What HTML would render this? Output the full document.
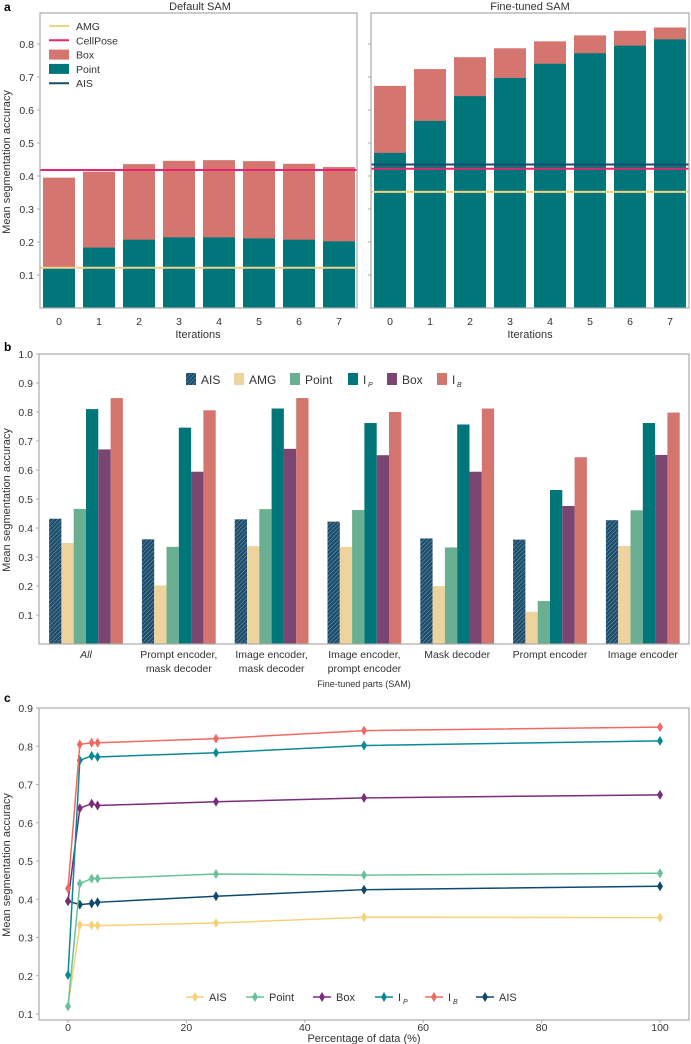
<!DOCTYPE html>
<html><head><meta charset="utf-8"><style>
body{margin:0;background:#fff;}
svg{display:block;font-family:"Liberation Sans",sans-serif;}
</style></head><body>
<svg id="s" width="691" height="1044" viewBox="0 0 691 1044">
<defs><pattern id="hatch" width="3" height="3" patternUnits="userSpaceOnUse" patternTransform="rotate(45)"><rect width="3" height="3" fill="#1e4d6b"/><line x1="0" y1="0" x2="0" y2="3" stroke="#8fb3c8" stroke-width="0.8"/></pattern></defs>
</svg>
<script>
// Panel a data
const iterations=[0,1,2,3,4,5,6,7];
const defPoint=[0.12,0.183,0.207,0.214,0.214,0.211,0.207,0.202];
const defBox=[0.395,0.413,0.436,0.446,0.448,0.445,0.437,0.427];
const defAMG=0.122, defCell=0.418;
const ftPoint=[0.47,0.567,0.642,0.697,0.74,0.772,0.795,0.814];
const ftBox=[0.673,0.724,0.76,0.787,0.808,0.826,0.84,0.85];
const ftAMG=0.352, ftCell=0.422, ftAIS=0.435;
const aTicks=[0.1,0.2,0.3,0.4,0.5,0.6,0.7,0.8];
// Panel b data
const bGroups=["All","Prompt encoder,|mask decoder","Image encoder,|mask decoder","Image encoder,|prompt encoder","Mask decoder","Prompt encoder","Image encoder"];
const bAIS=[0.432,0.361,0.430,0.422,0.364,0.360,0.427];
const bAMG=[0.348,0.202,0.338,0.335,0.200,0.111,0.338];
const bPoint=[0.466,0.335,0.465,0.462,0.333,0.148,0.461];
const bIP=[0.810,0.746,0.812,0.762,0.757,0.531,0.762];
const bBox=[0.671,0.594,0.673,0.651,0.594,0.476,0.652];
const bIB=[0.848,0.806,0.848,0.800,0.812,0.644,0.798];
const bTicks=[0.1,0.2,0.3,0.4,0.5,0.6,0.7,0.8,0.9,1.0];
// Panel c data
const cX=[0,2,4,5,25,50,100];
const cAMG=[0.12,0.333,0.332,0.331,0.338,0.353,0.352];
const cPoint=[0.12,0.441,0.454,0.454,0.466,0.463,0.468];
const cBox=[0.395,0.638,0.650,0.645,0.655,0.665,0.673];
const cIP=[0.202,0.763,0.775,0.772,0.783,0.802,0.814];
const cIB=[0.428,0.805,0.809,0.809,0.820,0.841,0.850];
const cAIS=[0.395,0.386,0.389,0.392,0.408,0.425,0.434];
const cYTicks=[0.1,0.2,0.3,0.4,0.5,0.6,0.7,0.8,0.9];
const cXTicks=[0,20,40,60,80,100];

const S=document.getElementById('s');const NS='http://www.w3.org/2000/svg';
function mk(t,a,txt){const e=document.createElementNS(NS,t);for(const k in a)e.setAttribute(k,a[k]);if(txt!==undefined)e.textContent=txt;S.appendChild(e);return e;}
function T(x,y,s,o){o=o||{};return mk('text',{x:x,y:y,'font-size':o.fs||10.5,fill:o.fill||'#333','text-anchor':o.anchor||'middle','font-style':o.it||'normal','font-weight':o.fw||'normal',transform:o.tr||''},s);}
function frame(x0,y0,x1,y1,name){const r=mk('rect',{x:x0,y:y0,width:x1-x0,height:y1-y0,fill:'none',stroke:'#aaa','stroke-width':1.2});}

// ---- Panel a
const aY=v=>308-v*330;
const aXL=i=>59+i*40, aXR=i=>390+i*40;
let t=T(4,11,'a',{fs:12,fw:'bold',anchor:'start',fill:'#000'});
t=T(200,10,'Default SAM',{fs:11});
t=T(530,10,'Fine-tuned SAM',{fs:11});
function panelA(xf,pts,box,side){
  iterations.forEach((it,i)=>{const cx=xf(i);
    let r=mk('rect',{x:cx-16,y:aY(box[i]),width:32,height:aY(0)-aY(box[i]),fill:'#d4756f'});
    r=mk('rect',{x:cx-16,y:aY(pts[i]),width:32,height:aY(0)-aY(pts[i]),fill:'#00767a'});
    const l=T(cx,325,String(it));
  });
}
panelA(aXL,defPoint,defBox,'default');panelA(aXR,ftPoint,ftBox,'finetuned');
function hline(x0,x1,v,c,n){const l=mk('line',{x1:x0,x2:x1,y1:aY(v),y2:aY(v),stroke:c,'stroke-width':2});}
hline(40,357,defAMG,'#f0d48a','amg-line-default');hline(40,357,defCell,'#e8246e','cellpose-line-default');
hline(371,689,ftAMG,'#f0d48a','amg-line-finetuned');hline(371,689,ftCell,'#e8246e','cellpose-line-finetuned');hline(371,689,ftAIS,'#1b4a6b','ais-line-finetuned');
frame(40,13,357,308,'default-sam-axes');frame(371,13,689,308,'finetuned-sam-axes');
aTicks.forEach(v=>{const l=T(34,aY(v)+4,v.toFixed(1),{anchor:'end'});
  mk('line',{x1:37,x2:40,y1:aY(v),y2:aY(v),stroke:'#aaa'});mk('line',{x1:368,x2:371,y1:aY(v),y2:aY(v),stroke:'#aaa'});});
t=T(0,0,'Mean segmentation accuracy',{fs:11,tr:'translate(10,162) rotate(-90)'});
t=T(198,338,'Iterations',{fs:11});
t=T(530,338,'Iterations',{fs:11});
[['AMG','line','#f0d48a'],['CellPose','line','#e8246e'],['Box','rect','#d4756f'],['Point','rect','#00767a'],['AIS','line','#1b4a6b']].forEach((e,i)=>{const y=26+i*14.3;
  if(e[1]=='line')mk('line',{x1:49,x2:69,y1:y,y2:y,stroke:e[2],'stroke-width':2});else mk('rect',{x:49,y:y-5,width:20,height:10,fill:e[2]});
  const l=T(76,y+4,e[0],{anchor:'start'});});

// ---- Panel b
const bY=v=>644-v*290;
const bGX=g=>86+g*92.8;
t=T(4,351,'b',{fs:12,fw:'bold',anchor:'start',fill:'#000'});
const bSeries=[['AIS',bAIS,'url(#hatch)'],['AMG',bAMG,'#edd39d'],['Point',bPoint,'#6aaf91'],['IP',bIP,'#00767a'],['Box',bBox,'#7b4571'],['IB',bIB,'#d4756f']];
const bw=12.3;
bGroups.forEach((g,gi)=>{const cx=bGX(gi);
  bSeries.forEach((s,si)=>{const v=s[1][gi];const x=cx-3*bw+si*bw;
    const r=mk('rect',{x:x,y:bY(v),width:bw,height:bY(0)-bY(v),fill:s[2]});});
  const parts=g.split('|');parts.forEach((p,pi)=>{const l=T(cx,658+pi*14,p,{it:gi==0?'italic':'normal'});});
});
frame(39,354,689,644,'panel-b-axes');
bTicks.forEach(v=>{const l=T(33,bY(v)+4,v.toFixed(1),{anchor:'end'});mk('line',{x1:36,x2:39,y1:bY(v),y2:bY(v),stroke:'#aaa'});});
t=T(0,0,'Mean segmentation accuracy',{fs:11,tr:'translate(10,500) rotate(-90)'});
t=T(364,687,'Fine-tuned parts (SAM)',{fs:9});
const bLeg=[['AIS','url(#hatch)',186],['AMG','#edd39d',234],['Point','#6aaf91',290],['I','#00767a',348],['Box','#7b4571',387],['I','#d4756f',437]];
bLeg.forEach((e,i)=>{mk('rect',{x:e[2],y:373,width:10,height:12,fill:e[1]});
  const l=T(e[2]+15,384,e[0],{anchor:'start',fs:12});
  if(i==3||i==5){T(e[2]+20,387,i==3?'P':'B',{anchor:'start',fs:7,it:'italic'});}});

// ---- Panel c
const cYf=v=>1014-(v-0.1)*382.5;
const cXf=x=>68+x*5.92;
t=T(4,702,'c',{fs:12,fw:'bold',anchor:'start',fill:'#000'});
frame(39,708,689,1020,'panel-c-axes');
cYTicks.forEach(v=>{const l=T(33,cYf(v)+4,v.toFixed(1),{anchor:'end'});mk('line',{x1:36,x2:39,y1:cYf(v),y2:cYf(v),stroke:'#aaa'});});
cXTicks.forEach(v=>{const l=T(cXf(v),1031,String(v));mk('line',{x1:cXf(v),x2:cXf(v),y1:1020,y2:1023,stroke:'#aaa'});});
t=T(0,0,'Mean segmentation accuracy',{fs:11,tr:'translate(10,865) rotate(-90)'});
t=T(364,1042,'Percentage of data (%)',{fs:11});
const cSeries=[['ais',cAIS,'#0f4a6e'],['amg',cAMG,'#f5d27a'],['point',cPoint,'#6cc09a'],['box',cBox,'#7b2d7a'],['ip',cIP,'#0b8a95'],['ib',cIB,'#ee6a64']];
function diamond(x,y,c){return mk('path',{d:`M${x} ${y-5}L${x+3} ${y}L${x} ${y+5}L${x-3} ${y}Z`,fill:c});}
cSeries.forEach(s=>{const p=s[1].map((v,i)=>cXf(cX[i])+','+cYf(v)).join(' ');
  const l=mk('polyline',{points:p,fill:'none',stroke:s[2],'stroke-width':1.5});
  s[1].forEach((v,i)=>{const d=diamond(cXf(cX[i]),cYf(v),s[2]);});});
const cLeg=[['AIS','#f5d27a',186],['Point','#6cc09a',246],['Box','#7b2d7a',313],['I','#0b8a95',375],['I','#ee6a64',425],['AIS','#0f4a6e',476]];
cLeg.forEach((e,i)=>{mk('line',{x1:e[2],x2:e[2]+18,y1:997,y2:997,stroke:e[1],'stroke-width':1.5});diamond(e[2]+9,997,e[1]);
  const l=T(e[2]+23,1001,e[0],{anchor:'start',fs:11});
  if(i==3||i==4)T(e[2]+28,1004,i==3?'P':'B',{anchor:'start',fs:7,it:'italic'});});
</script>
</body></html>
